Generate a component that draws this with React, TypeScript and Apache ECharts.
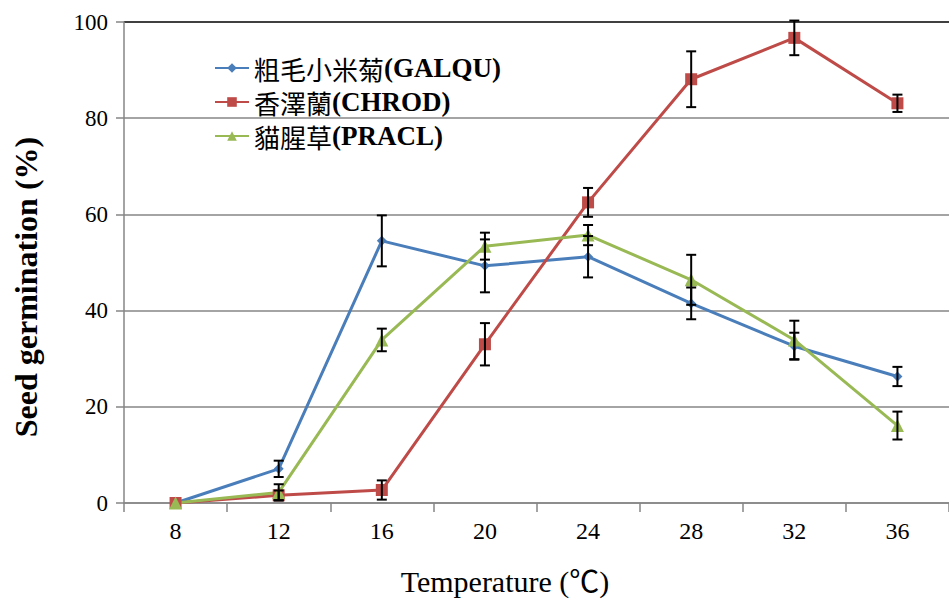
import React, { useEffect, useRef } from "react";
import * as echarts from "echarts";

const temps = ["8", "12", "16", "20", "24", "28", "32", "36"];
const galqu = [0, 7.1, 54.5, 49.3, 51.2, 41.5, 32.6, 26.3];
const galquErr = [0, 1.7, 5.3, 5.5, 4.3, 3.3, 2.8, 2.0];
const chrod = [0, 1.6, 2.7, 33.0, 62.5, 88.1, 96.7, 83.1];
const chrodErr = [0, 1.0, 2.0, 4.4, 3.0, 5.8, 3.6, 1.8];
const pracl = [0, 2.2, 33.9, 53.4, 55.7, 46.4, 33.9, 16.1];
const praclErr = [0, 1.7, 2.35, 2.8, 2.1, 5.2, 4.0, 2.9];

const seriesNames = ["粗毛小米菊(GALQU)", "香澤蘭(CHROD)", "貓腥草(PRACL)"];
const seriesColors = ["#4A7EBB", "#BE4B48", "#98B954"];
const seriesSymbols = ["diamond", "rect", "triangle"];
const symbolSizes = [10, 12, 13];

const SERIF = "'Liberation Serif', 'Times New Roman', 'Noto Sans CJK TC', serif";

function errData(vals: number[], errs: number[]) {
  return vals.map((v, i) => [i, v - errs[i], v + errs[i], errs[i]]);
}

export default function App() {
  const ref = useRef<HTMLDivElement>(null);
  useEffect(() => {
    if (!ref.current) return;
    const chart = echarts.init(ref.current, null, { renderer: "svg" });
    const values = [galqu, chrod, pracl];
    const errs = [galquErr, chrodErr, praclErr];

    const renderErr = (params: any, api: any) => {
      const e = api.value(3);
      if (!e) return null;
      const x = api.value(0);
      const top = api.coord([x, api.value(2)]);
      const bot = api.coord([x, api.value(1)]);
      const w = 5;
      const st = { stroke: "#000", lineWidth: 2 };
      return {
        type: "group",
        children: [
          { type: "line", shape: { x1: top[0], y1: top[1], x2: bot[0], y2: bot[1] }, style: st },
          { type: "line", shape: { x1: top[0] - w, y1: top[1], x2: top[0] + w, y2: top[1] }, style: st },
          { type: "line", shape: { x1: bot[0] - w, y1: bot[1], x2: bot[0] + w, y2: bot[1] }, style: st },
        ],
      };
    };

    const lineSeries = values.map((vals, k) => ({
      name: seriesNames[k],
      type: "line",
      data: vals,
      symbol: seriesSymbols[k],
      symbolSize: symbolSizes[k],
      showAllSymbol: true,
      lineStyle: { color: seriesColors[k], width: 3 },
      itemStyle: { color: seriesColors[k] },
      z: 3,
    }));
    const errSeries = values.map((vals, k) => ({
      name: seriesNames[k] + " err",
      type: "custom",
      renderItem: renderErr,
      data: errData(vals, errs[k]),
      encode: { x: 0, y: [1, 2] },
      z: 4,
      silent: true,
    }));

    chart.setOption({
      animation: false,
      backgroundColor: "#fff",
      grid: { left: 124, right: -9, top: 22, bottom: 104, containLabel: false },
      legend: {
        data: seriesNames,
        orient: "vertical",
        left: 214,
        top: 54,
        padding: 0,
        itemWidth: 34,
        itemHeight: 12,
        itemGap: 6,
        formatter: (name: string) => {
          const i = name.indexOf("(");
          return "{c|" + name.slice(0, i) + "}{l|" + name.slice(i) + "}";
        },
        textStyle: {
          fontFamily: SERIF,
          fontSize: 27,
          color: "#000",
          lineHeight: 28,
          rich: {
            c: { fontFamily: "'Noto Sans CJK TC', serif", fontSize: 26, color: "#000", lineHeight: 28 },
            l: { fontFamily: SERIF, fontSize: 27, fontWeight: "bold", color: "#000", lineHeight: 28 },
          },
        },
      },
      xAxis: {
        type: "category",
        data: temps,
        boundaryGap: true,
        axisLine: { show: true, lineStyle: { color: "#868686", width: 1.5 } },
        axisTick: { show: true, length: 9, alignWithLabel: false, lineStyle: { color: "#868686", width: 1.5 } },
        axisLabel: { color: "#000", fontFamily: SERIF, fontSize: 24, margin: 16 },
        splitLine: { show: false },
      },
      yAxis: {
        type: "value",
        min: 0,
        max: 100,
        interval: 20,
        axisLine: { show: true, lineStyle: { color: "#868686", width: 1.5 } },
        axisTick: { show: true, length: 8, lineStyle: { color: "#868686", width: 1.5 } },
        axisLabel: { color: "#000", fontFamily: SERIF, fontSize: 23, margin: 16 },
        splitLine: {
          show: true,
          lineStyle: {
            color: ["#868686", "#868686", "#868686", "#868686", "#868686", "#000"],
            width: 1.5,
          },
        },
      },
      graphic: [
        {
          type: "text",
          x: 26,
          y: 287,
          rotation: Math.PI / 2,
          style: {
            text: "Seed germination (%)",
            textAlign: "center",
            textVerticalAlign: "middle",
            font: "bold 32px " + SERIF,
            fill: "#000",
          },
        },
        {
          type: "text",
          x: 505,
          y: 581,
          style: {
            text: "Temperature (℃)",
            textAlign: "center",
            textVerticalAlign: "middle",
            font: "30px " + SERIF,
            fill: "#000",
          },
        },
      ],
      series: [...lineSeries, ...errSeries],
    });
    return () => chart.dispose();
  }, []);
  return (
    <div
      ref={ref}
      style={{ position: "fixed", left: 0, top: 0, width: 949, height: 607, background: "#fff" }}
    />
  );
}
